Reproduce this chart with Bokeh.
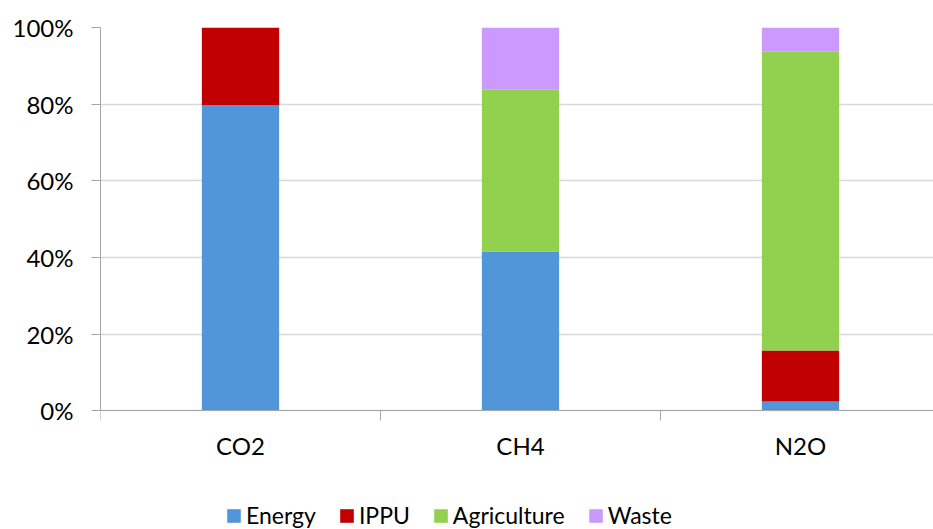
from bokeh.plotting import figure
from bokeh.models import (ColumnDataSource, Range1d, FixedTicker, NumeralTickFormatter,
                          Legend, LegendItem)
from bokeh.embed import file_html
from bokeh.resources import INLINE

gases = ["CO2", "CH4", "N2O"]
sectors = ["Energy", "IPPU", "Agriculture", "Waste"]
energy = [0.797, 0.416, 0.025]
ippu = [0.203, 0.0, 0.133]
agriculture = [0.0, 0.422, 0.780]
waste = [0.0, 0.162, 0.062]
colors = ["#5096D8", "#C00000", "#92D050", "#CC99FF"]
y_ticks = [0, 0.2, 0.4, 0.6, 0.8, 1.0]

xpos = [i + 0.5 for i in range(len(gases))]
source = ColumnDataSource(dict(x=xpos, Energy=energy, IPPU=ippu,
                               Agriculture=agriculture, Waste=waste))

FONT = "Lato"
FS = "24px"

p = figure(width=933, height=529, output_backend="svg", toolbar_location=None,
           x_range=Range1d(0, 833 / 280), y_range=Range1d(-0.309, 1),
           min_border_left=100, min_border_top=27, min_border_right=0,
           min_border_bottom=0)
p.outline_line_color = None

renderers = p.vbar_stack(sectors, x="x", width=0.276, color=colors, source=source,
                         line_color=None)

# x axis (pinned at 0 so the legend can sit inside the frame below it)
p.xaxis.fixed_location = 0
p.xaxis.ticker = FixedTicker(ticks=xpos, minor_ticks=list(range(len(gases) + 1)))
p.xaxis.major_label_overrides = {x: g for x, g in zip(xpos, gases)}
p.xaxis.major_tick_out = 0
p.xaxis.major_tick_in = 0
p.xaxis.minor_tick_out = 10
p.xaxis.minor_tick_in = 0
p.xaxis.minor_tick_line_color = "#A6A6A6"
p.xaxis.axis_line_color = "#A6A6A6"
p.xaxis.major_label_standoff = 10
p.xgrid.visible = False

# y axis
p.yaxis.bounds = (0, 1)
p.yaxis.ticker = FixedTicker(ticks=y_ticks)
p.yaxis.formatter = NumeralTickFormatter(format="0%")
p.yaxis.major_tick_out = 9
p.yaxis.major_tick_in = 0
p.yaxis.minor_tick_out = 0
p.yaxis.minor_tick_in = 0
p.yaxis.major_tick_line_color = "#A6A6A6"
p.yaxis.axis_line_color = "#A6A6A6"
p.yaxis.major_label_standoff = 18
p.ygrid.grid_line_color = "#D9D9D9"
p.ygrid.grid_line_width = 1.5

for ax in (p.xaxis, p.yaxis):
    ax.major_label_text_font = FONT
    ax.major_label_text_font_size = FS
    ax.major_label_text_color = "#000000"

legend = Legend(items=[LegendItem(label=s, renderers=[r]) for s, r in zip(sectors, renderers)],
                location=(125, 0), orientation="horizontal",
                spacing=22, label_standoff=4, glyph_width=17, glyph_height=17,
                padding=0, margin=0, border_line_color=None, background_fill_alpha=0,
                label_text_font=FONT, label_text_font_size="23px", label_text_color="#000000")
p.add_layout(legend, "center")

open("out.html", "w").write(file_html(p, INLINE))
